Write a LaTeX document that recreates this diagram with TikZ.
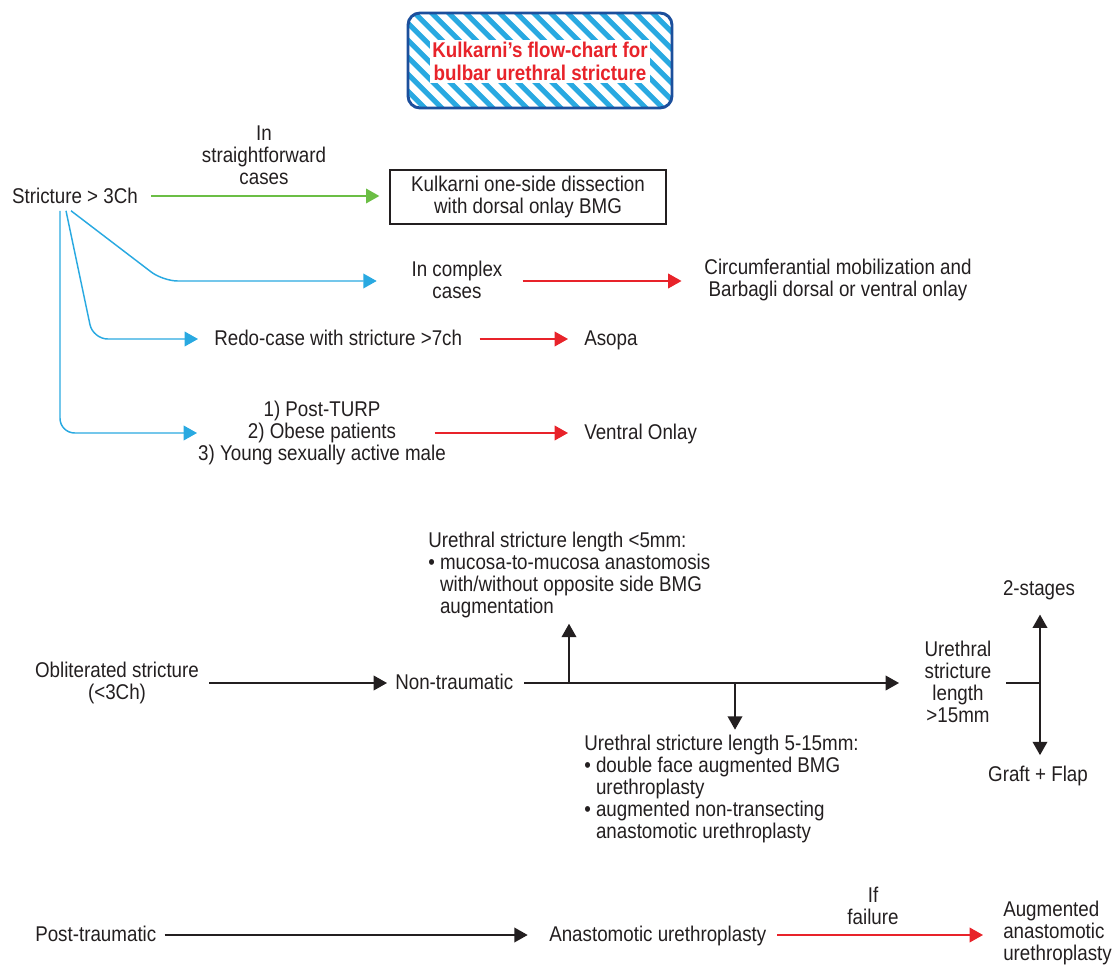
\documentclass[tikz,border=0pt]{standalone}
\usepackage{fontspec}
\setmainfont{Liberation Sans}[FakeStretch=0.88]
\usetikzlibrary{arrows.meta}
\definecolor{cred}{HTML}{E8232A}
\definecolor{cgreen}{HTML}{6BBE45}
\definecolor{cblue}{HTML}{29A9E1}
\definecolor{cdblue}{HTML}{1C4F9C}
\definecolor{ctext}{HTML}{231F20}
\begin{document}
\begin{tikzpicture}[x=0.75pt,y=-0.75pt,
  font=\fontsize{16}{16.5}\selectfont,
  txt/.style={inner sep=0pt, align=center, text=ctext},
  one/.style={txt, anchor=base west},
  arr/.style={line width=1.1pt, -{Triangle[length=10pt,width=11pt]}},
  garr/.style={arr, draw=cgreen},
  barr/.style={arr, draw=cblue, rounded corners=11pt},
  rarr/.style={arr, draw=cred},
  karr/.style={arr, draw=ctext},
  kline/.style={line width=1.1pt, draw=ctext}]
\useasboundingbox (0,0) rectangle (1118,966);

% title
\node[draw=cdblue, line width=2.2pt, rounded corners=9pt, minimum width=198pt, minimum height=71.25pt,
  path picture={\foreach \i in {-7,...,17}
    \draw[cblue, line width=3.8pt] ([xshift=\i*12.75pt, yshift=5pt]path picture bounding box.north west) -- ++(85pt,-85pt);}]
  (title) at (540,60.5) {};
\node[fill=white, text=cred, font=\bfseries\fontsize{16}{17}\selectfont, inner xsep=1.5pt, inner ysep=2pt, align=center]
  (tt) at (540,61.5) {Kulkarni’s flow-chart for\\bulbar urethral stricture};

% top section
\node[txt] (s3) at (75,196) {Stricture > 3Ch};
\node[txt] (lsf) at (264,155) {In\\straightforward\\cases};
\node[draw=ctext, line width=1pt, minimum width=207pt, minimum height=40.5pt, txt] (kd) at (528,197) {Kulkarni one-side dissection\\with dorsal onlay BMG};
\node[txt] (cx) at (457,280) {In complex\\cases};
\node[txt] (circ) at (838,280) {Circumferantial mobilization and\\Barbagli dorsal or ventral onlay};
\node[one] (redo) at (214,346) {Redo-case with stricture >7ch};
\node[one] (asopa) at (584,346) {Asopa};
\node[txt] (turp) at (322,433) {1) Post-TURP\\2) Obese patients\\3) Young sexually active male};
\node[one] (vo) at (584,440) {Ventral Onlay};

\draw[garr] ([xshift=10pt]s3.east) -- ([xshift=-7.5pt]s3.east -| kd.west);
\draw[barr] ([xshift=-3pt,yshift=-5pt]s3.south) -- (163,281) -- ([xshift=-26pt]cx.west |- 0,281);
\draw[barr] ([xshift=-6.75pt,yshift=-5pt]s3.south) -- (93,339) -- ([xshift=-12pt]redo.west |- 0,339);
\draw[barr] ([xshift=-11.25pt,yshift=-5pt]s3.south) -- (60,433) -- (197,433);
\draw[rarr] ([xshift=15pt]cx.east |- 0,281) -- ([xshift=-17pt]circ.west |- 0,281);
\draw[rarr] ([xshift=13pt]redo.east |- 0,339) -- ([xshift=-12pt]asopa.west |- 0,339);
\draw[rarr] ([xshift=-112pt]vo.west |- 0,433) -- ([xshift=-12pt]vo.west |- 0,433);

% middle section
\node[txt] (obl) at (117,683) {Obliterated stricture\\(<3Ch)};
\node[one] (nt) at (395,689) {Non-traumatic};
\node[txt] (u15) at (958,682) {Urethral\\stricture\\length\\>15mm};
\node[txt, anchor=north west, align=left] (u5) at (428,532)
  {Urethral stricture length <5mm:\\
   \textbullet\ mucosa-to-mucosa anastomosis\\
   \hphantom{\textbullet\ }with/without opposite side BMG\\
   \hphantom{\textbullet\ }augmentation};
\node[txt, anchor=north west, align=left] (u515) at (584,735)
  {Urethral stricture length 5-15mm:\\
   \textbullet\ double face augmented BMG\\
   \hphantom{\textbullet\ }urethroplasty\\
   \textbullet\ augmented non-transecting\\
   \hphantom{\textbullet\ }anastomotic urethroplasty};
\node[txt] (two) at (1039,590) {2-stages};
\node[txt] (gf) at (1038,776) {Graft + Flap};
\coordinate (j1) at (569,683);
\coordinate (j2) at (735,683);
\coordinate (j3) at (1040,683);

\draw[karr] ([xshift=7.5pt]obl.east |- 0,683) -- ([xshift=-6pt]nt.west |- 0,683);
\draw[karr] ([xshift=8pt]nt.east |- 0,683) -- ([xshift=-19pt]u15.west |- 0,683);
\draw[karr] (j1) -- ([yshift=-4pt]j1 |- u5.south);
\draw[karr] (j2) -- ([yshift=4pt]j2 |- u515.north);
\draw[kline] ([xshift=11pt]u15.east |- j3) -- (j3);
\draw[karr] (j3) -- ([yshift=-11pt]j3 |- two.south);
\draw[karr] (j3) -- ([yshift=8pt]j3 |- gf.north);

% bottom section
\node[one] (pt) at (35,941) {Post-traumatic};
\node[one] (au) at (549,941) {Anastomotic urethroplasty};
\node[txt] (iff) at (873,906) {If\\failure};
\node[txt, anchor=west, align=left] (aau) at (1003,933) {Augmented\\anastomotic\\urethroplasty};
\draw[karr] ([xshift=6pt]pt.east |- 0,935) -- ([xshift=-16pt]au.west |- 0,935);
\draw[rarr] ([xshift=8pt]au.east |- 0,935) -- ([xshift=-15pt]aau.west |- 0,935);
\end{tikzpicture}
\end{document}
